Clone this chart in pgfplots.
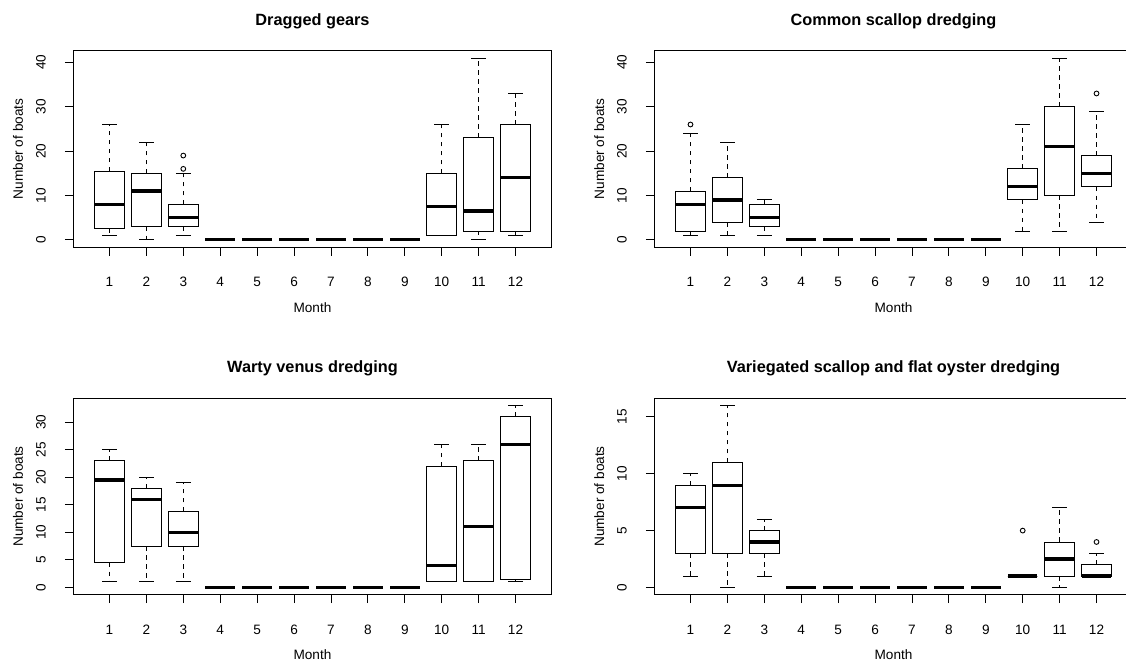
\documentclass[border=0pt]{standalone}
\usepackage{fontspec}
\setmainfont{Liberation Sans}
\usepackage{pgfplots}
\pgfplotsset{compat=1.18}
\usepgfplotslibrary{statistics}

\newcommand\tfont{\fontsize{13.6bp}{16bp}\selectfont}
\newcommand\hfont{\bfseries\fontsize{16.3bp}{19bp}\selectfont}

% R style whiskers: dashed line, solid staple at the whisker end
\pgfplotsset{
  boxplot/draw/whisker/.code 2 args={
    \draw[black, line width=0.9bp, dash pattern=on 4.5bp off 4.5bp]
      (boxplot cs:#1) -- (boxplot cs:#2);
    \draw[black, line width=0.9bp, solid]
      (boxplot whisker cs:#2,0) -- (boxplot whisker cs:#2,1);
  },
  rpanel/.style={
    scale only axis, width=478.4bp, height=196.4bp, anchor=north west,
    xmin=0.02, xmax=12.98, xtick={1,...,12},
    tick align=outside, major tick length=8.5bp, tick pos=left,
    tick style={black, line width=0.9bp},
    axis line style={line width=0.9bp},
    tick label style={font=\tfont},
    /pgf/number format/assume math mode=true,
    xticklabel style={anchor=base, yshift=-31bp},
    yticklabel style={xshift=-19.3bp, rotate=90, anchor=base},
    every axis title/.style={at={(0.5,1)}, anchor=base, yshift=25.7bp, font=\hfont},
    every axis x label/.style={at={(axis description cs:0.5,0)}, anchor=base, yshift=-65bp, font=\tfont},
    every axis y label/.style={at={(axis description cs:0,0.5)}, xshift=-50.3bp, rotate=90, anchor=base, font=\tfont},
    xlabel={Month}, ylabel={Number of boats},
  },
  bp/.style={black, solid, line width=0.9bp, mark=o, mark size=2.4bp,
    mark options={solid, black, line width=0.9bp},
    boxplot/draw direction=y,
    boxplot/box extend=0.8, boxplot/whisker extend=0.4,
    boxplot/every median/.style={line width=3.2bp}},
}

\begin{document}
\begin{tikzpicture}
\useasboundingbox (0,0) rectangle (1126bp,-662bp);
\clip (0,0) rectangle (1126bp,-662bp);

% ---------------- Dragged gears
\begin{axis}[rpanel, at={(73.3bp,-50.7bp)}, title={Dragged gears},
  ymin=-1.64, ymax=42.64, ytick={0,10,...,40}]
\addplot[bp, boxplot prepared={draw position=1, lower whisker=1, lower quartile=2.5, median=8, upper quartile=15.5, upper whisker=26}] coordinates {};
\addplot[bp, boxplot prepared={draw position=2, lower whisker=0, lower quartile=3, median=11, upper quartile=15, upper whisker=22}] coordinates {};
\addplot[bp, boxplot prepared={draw position=3, lower whisker=1, lower quartile=3, median=5, upper quartile=8, upper whisker=15}] table[row sep=\\, y index=0] {19\\ 16\\};
\addplot[bp, boxplot prepared={draw position=4, lower whisker=0, lower quartile=0, median=0, upper quartile=0, upper whisker=0}] coordinates {};
\addplot[bp, boxplot prepared={draw position=5, lower whisker=0, lower quartile=0, median=0, upper quartile=0, upper whisker=0}] coordinates {};
\addplot[bp, boxplot prepared={draw position=6, lower whisker=0, lower quartile=0, median=0, upper quartile=0, upper whisker=0}] coordinates {};
\addplot[bp, boxplot prepared={draw position=7, lower whisker=0, lower quartile=0, median=0, upper quartile=0, upper whisker=0}] coordinates {};
\addplot[bp, boxplot prepared={draw position=8, lower whisker=0, lower quartile=0, median=0, upper quartile=0, upper whisker=0}] coordinates {};
\addplot[bp, boxplot prepared={draw position=9, lower whisker=0, lower quartile=0, median=0, upper quartile=0, upper whisker=0}] coordinates {};
\addplot[bp, boxplot prepared={draw position=10, lower whisker=1, lower quartile=1, median=7.5, upper quartile=15, upper whisker=26}] coordinates {};
\addplot[bp, boxplot prepared={draw position=11, lower whisker=0, lower quartile=2, median=6.5, upper quartile=23, upper whisker=41}] coordinates {};
\addplot[bp, boxplot prepared={draw position=12, lower whisker=1, lower quartile=2, median=14, upper quartile=26, upper whisker=33}] coordinates {};
\end{axis}

% ---------------- Common scallop dredging
\begin{axis}[rpanel, at={(654.3bp,-50.7bp)}, title={Common scallop dredging},
  ymin=-1.64, ymax=42.64, ytick={0,10,...,40}]
\addplot[bp, boxplot prepared={draw position=1, lower whisker=1, lower quartile=2, median=8, upper quartile=11, upper whisker=24}] table[row sep=\\, y index=0] {26\\};
\addplot[bp, boxplot prepared={draw position=2, lower whisker=1, lower quartile=4, median=9, upper quartile=14, upper whisker=22}] coordinates {};
\addplot[bp, boxplot prepared={draw position=3, lower whisker=1, lower quartile=3, median=5, upper quartile=8, upper whisker=9}] coordinates {};
\addplot[bp, boxplot prepared={draw position=4, lower whisker=0, lower quartile=0, median=0, upper quartile=0, upper whisker=0}] coordinates {};
\addplot[bp, boxplot prepared={draw position=5, lower whisker=0, lower quartile=0, median=0, upper quartile=0, upper whisker=0}] coordinates {};
\addplot[bp, boxplot prepared={draw position=6, lower whisker=0, lower quartile=0, median=0, upper quartile=0, upper whisker=0}] coordinates {};
\addplot[bp, boxplot prepared={draw position=7, lower whisker=0, lower quartile=0, median=0, upper quartile=0, upper whisker=0}] coordinates {};
\addplot[bp, boxplot prepared={draw position=8, lower whisker=0, lower quartile=0, median=0, upper quartile=0, upper whisker=0}] coordinates {};
\addplot[bp, boxplot prepared={draw position=9, lower whisker=0, lower quartile=0, median=0, upper quartile=0, upper whisker=0}] coordinates {};
\addplot[bp, boxplot prepared={draw position=10, lower whisker=2, lower quartile=9, median=12, upper quartile=16, upper whisker=26}] coordinates {};
\addplot[bp, boxplot prepared={draw position=11, lower whisker=2, lower quartile=10, median=21, upper quartile=30, upper whisker=41}] coordinates {};
\addplot[bp, boxplot prepared={draw position=12, lower whisker=4, lower quartile=12, median=15, upper quartile=19, upper whisker=29}] table[row sep=\\, y index=0] {33\\};
\end{axis}

% ---------------- Warty venus dredging
\begin{axis}[rpanel, at={(73.3bp,-398.3bp)}, title={Warty venus dredging},
  ymin=-1.32, ymax=34.32, ytick={0,5,...,30}]
\addplot[bp, boxplot prepared={draw position=1, lower whisker=1, lower quartile=4.5, median=19.5, upper quartile=23, upper whisker=25}] coordinates {};
\addplot[bp, boxplot prepared={draw position=2, lower whisker=1, lower quartile=7.5, median=16, upper quartile=18, upper whisker=20}] coordinates {};
\addplot[bp, boxplot prepared={draw position=3, lower whisker=1, lower quartile=7.5, median=10, upper quartile=13.8, upper whisker=19}] coordinates {};
\addplot[bp, boxplot prepared={draw position=4, lower whisker=0, lower quartile=0, median=0, upper quartile=0, upper whisker=0}] coordinates {};
\addplot[bp, boxplot prepared={draw position=5, lower whisker=0, lower quartile=0, median=0, upper quartile=0, upper whisker=0}] coordinates {};
\addplot[bp, boxplot prepared={draw position=6, lower whisker=0, lower quartile=0, median=0, upper quartile=0, upper whisker=0}] coordinates {};
\addplot[bp, boxplot prepared={draw position=7, lower whisker=0, lower quartile=0, median=0, upper quartile=0, upper whisker=0}] coordinates {};
\addplot[bp, boxplot prepared={draw position=8, lower whisker=0, lower quartile=0, median=0, upper quartile=0, upper whisker=0}] coordinates {};
\addplot[bp, boxplot prepared={draw position=9, lower whisker=0, lower quartile=0, median=0, upper quartile=0, upper whisker=0}] coordinates {};
\addplot[bp, boxplot prepared={draw position=10, lower whisker=1, lower quartile=1, median=4, upper quartile=22, upper whisker=26}] coordinates {};
\addplot[bp, boxplot prepared={draw position=11, lower whisker=1, lower quartile=1, median=11, upper quartile=23, upper whisker=26}] coordinates {};
\addplot[bp, boxplot prepared={draw position=12, lower whisker=1, lower quartile=1.5, median=26, upper quartile=31, upper whisker=33}] coordinates {};
\end{axis}

% ---------------- Variegated scallop and flat oyster dredging
\begin{axis}[rpanel, at={(654.3bp,-398.3bp)}, title={Variegated scallop and flat oyster dredging},
  ymin=-0.64, ymax=16.64, ytick={0,5,10,15}]
\addplot[bp, boxplot prepared={draw position=1, lower whisker=1, lower quartile=3, median=7, upper quartile=9, upper whisker=10}] coordinates {};
\addplot[bp, boxplot prepared={draw position=2, lower whisker=0, lower quartile=3, median=9, upper quartile=11, upper whisker=16}] coordinates {};
\addplot[bp, boxplot prepared={draw position=3, lower whisker=1, lower quartile=3, median=4, upper quartile=5, upper whisker=6}] coordinates {};
\addplot[bp, boxplot prepared={draw position=4, lower whisker=0, lower quartile=0, median=0, upper quartile=0, upper whisker=0}] coordinates {};
\addplot[bp, boxplot prepared={draw position=5, lower whisker=0, lower quartile=0, median=0, upper quartile=0, upper whisker=0}] coordinates {};
\addplot[bp, boxplot prepared={draw position=6, lower whisker=0, lower quartile=0, median=0, upper quartile=0, upper whisker=0}] coordinates {};
\addplot[bp, boxplot prepared={draw position=7, lower whisker=0, lower quartile=0, median=0, upper quartile=0, upper whisker=0}] coordinates {};
\addplot[bp, boxplot prepared={draw position=8, lower whisker=0, lower quartile=0, median=0, upper quartile=0, upper whisker=0}] coordinates {};
\addplot[bp, boxplot prepared={draw position=9, lower whisker=0, lower quartile=0, median=0, upper quartile=0, upper whisker=0}] coordinates {};
\addplot[bp, boxplot prepared={draw position=10, lower whisker=1, lower quartile=1, median=1, upper quartile=1, upper whisker=1}] table[row sep=\\, y index=0] {5\\};
\addplot[bp, boxplot prepared={draw position=11, lower whisker=0, lower quartile=1, median=2.5, upper quartile=4, upper whisker=7}] coordinates {};
\addplot[bp, boxplot prepared={draw position=12, lower whisker=1, lower quartile=1, median=1, upper quartile=2, upper whisker=3}] table[row sep=\\, y index=0] {4\\};
\end{axis}
\end{tikzpicture}
\end{document}
